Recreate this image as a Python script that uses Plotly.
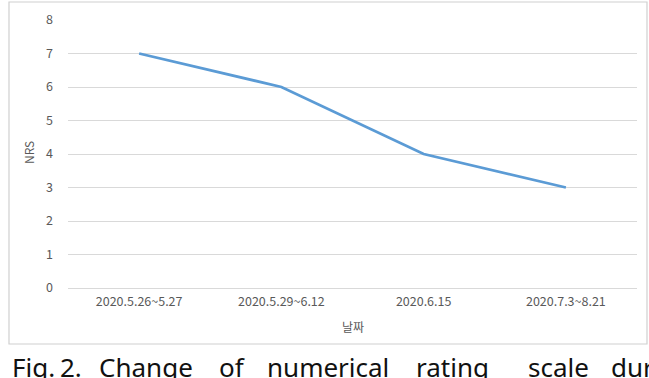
import plotly.graph_objects as go

categories = ["2020.5.26~5.27", "2020.5.29~6.12", "2020.6.15", "2020.7.3~8.21"]
nrs_values = [7, 6, 4, 3]
y_ticks = [0, 1, 2, 3, 4, 5, 6, 7, 8]
x_title = "날짜"
y_title = "NRS"
caption_words = ["Fig.", "2.", "Change", "of", "numerical", "rating", "scale", "during"]
caption_px = [10, 58, 97, 217, 265, 414, 526, 609]

W, H = 649, 378
L, R, T, B = 68, 12, 20, 90
PW, PH = W - L - R, H - T - B


def px_x(p):
    return (p - L) / PW


def px_y(p):
    return (H - B - p) / PH


fig = go.Figure()
fig.add_trace(go.Scatter(
    x=categories, y=nrs_values, mode="lines",
    line=dict(color="#5B9BD5", width=2.8),
    showlegend=False, hoverinfo="skip"))

font_main = "Noto Sans CJK KR, Noto Sans, sans-serif"

annotations = [
    dict(text=x_title, x=0.5, y=px_y(326), xref="paper", yref="paper",
         showarrow=False, font=dict(size=12, color="#595959", family=font_main),
         xanchor="center", yanchor="middle"),
    dict(text=y_title, x=px_x(28), y=px_y(153), xref="paper", yref="paper",
         showarrow=False, textangle=-90,
         font=dict(size=12, color="#595959", family=font_main),
         xanchor="center", yanchor="middle"),
]
for w, p in zip(caption_words, caption_px):
    annotations.append(dict(
        text=w, x=px_x(p), y=px_y(347), xref="paper", yref="paper",
        showarrow=False, xanchor="left", yanchor="top",
        font=dict(size=26, color="#111111", family="Noto Sans, sans-serif")))

fig.update_layout(
    width=W, height=H,
    margin=dict(l=L, r=R, t=T, b=B, autoexpand=False),
    paper_bgcolor="white", plot_bgcolor="white",
    xaxis=dict(type="category", range=[-0.5, 3.5], showgrid=False,
               showline=False, zeroline=False, ticks="",
               tickfont=dict(size=12.5, color="#595959", family=font_main),
               ticklabelstandoff=4, fixedrange=True),
    yaxis=dict(range=[0, 8], tickvals=y_ticks, showgrid=True,
               gridcolor="#d9d9d9", gridwidth=1, zeroline=True,
               zerolinecolor="#d9d9d9", zerolinewidth=1, showline=False,
               ticks="", tickfont=dict(size=12.5, color="#595959", family=font_main),
               ticklabelstandoff=14, fixedrange=True),
    annotations=annotations,
    shapes=[dict(type="rect", xref="paper", yref="paper",
                 x0=px_x(9), x1=px_x(647), y0=px_y(344), y1=px_y(2),
                 line=dict(color="#d0d0d0", width=1.2), fillcolor="rgba(0,0,0,0)",
                 layer="below")],
)

fig.write_html("out.html")
